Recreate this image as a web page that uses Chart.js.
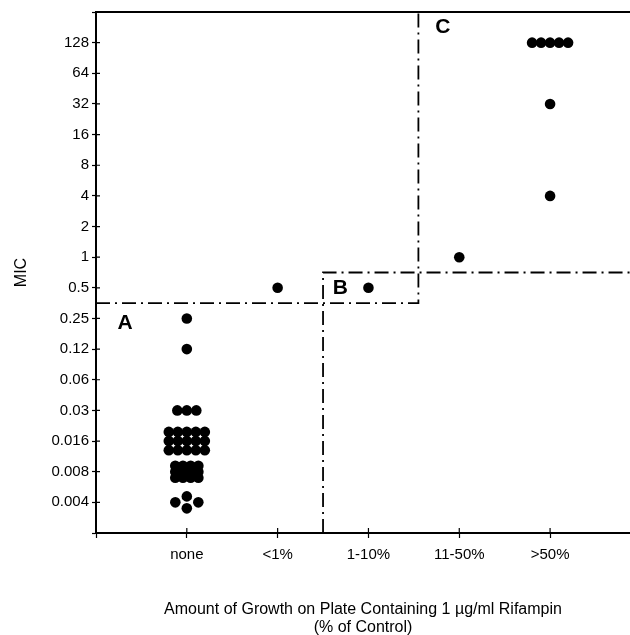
<!DOCTYPE html>
<html>
<head>
<meta charset="utf-8">
<script src="https://cdn.jsdelivr.net/npm/chart.js@4.4.1/dist/chart.umd.min.js"></script>
<style>
  html, body { margin: 0; padding: 0; background: #fff; }
  #wrap { width: 630px; height: 635px; }
</style>
</head>
<body>
<div id="wrap"><canvas id="micChart"></canvas></div>
<script>
const categories = ['none', '<1%', '1-10%', '11-50%', '>50%'];
const micLabels = ['0.004', '0.008', '0.016', '0.03', '0.06', '0.12', '0.25', '0.5',
                   '1', '2', '4', '8', '16', '32', '64', '128'];

// isolates per MIC, same order as micLabels
const countsNone    = [4, 12, 15, 3, 0, 1, 1, 0, 0, 0, 0, 0, 0, 0, 0, 0];
const countsBelow1  = [0, 0, 0, 0, 0, 0, 0, 1, 0, 0, 0, 0, 0, 0, 0, 0];
const counts1to10   = [0, 0, 0, 0, 0, 0, 0, 1, 0, 0, 0, 0, 0, 0, 0, 0];
const counts11to50  = [0, 0, 0, 0, 0, 0, 0, 0, 1, 0, 0, 0, 0, 0, 0, 0];
const countsAbove50 = [0, 0, 0, 0, 0, 0, 0, 0, 0, 0, 1, 0, 0, 1, 0, 5];
const allCounts = [countsNone, countsBelow1, counts1to10, counts11to50, countsAbove50];

// region borders (x = category position, y = MIC step)
const borderA = [{ x: 0, y: 6.5 }, { x: 3.55, y: 6.5 }, { x: 3.55, y: 16 }];
const borderB = [{ x: 2.5, y: -1 }, { x: 2.5, y: 7.5 }, { x: 5.88, y: 7.5 }];
const regionLetters = [
    { text: 'A', x: 0.32, y: 5.84 },
    { text: 'B', x: 2.69, y: 7.0 },
    { text: 'C', x: 3.82, y: 15.5 }
];

// how the dots of a crowded MIC are stacked (rows, spacing in px)
const dotStacks = {
    'none|0.004': { rows: [1, 2, 1], dx: 23, dy: 6 },
    'none|0.008': { rows: [4, 4, 4], dx: 7.7, dy: 6 },
    'none|0.016': { rows: [5, 5, 5], dx: 9, dy: 9.2 },
    'none|0.03':  { rows: [3], dx: 9.5, dy: 0 },
    '>50%|128':   { rows: [5], dx: 9, dy: 0 }
};

const X_MAX = 5.88;
const PLOT_W = 630 - 96, PLOT_H = 533 - 10;
const pxX = X_MAX / PLOT_W;
const pxY = 17 / PLOT_H;

const dots = [];
allCounts.forEach(function (counts, c) {
    counts.forEach(function (n, m) {
        if (!n) return;
        const stack = dotStacks[categories[c] + '|' + micLabels[m]] || { rows: [n], dx: 9.5, dy: 0 };
        stack.rows.forEach(function (inRow, r) {
            const yOff = ((stack.rows.length - 1) / 2 - r) * stack.dy;
            for (let i = 0; i < inRow; i++) {
                const xOff = (i - (inRow - 1) / 2) * stack.dx;
                dots.push({ x: c + 1 + xOff * pxX, y: m + yOff * pxY });
            }
        });
    });
});

const dashDot = [14, 5, 2, 5];
const FONT = '"Liberation Sans", Arial, sans-serif';

const framePlugin = {
    id: 'frame',
    afterDatasetsDraw(chart) {
        const { ctx, chartArea, scales } = chart;
        ctx.save();
        // top border
        ctx.strokeStyle = '#000';
        ctx.lineWidth = 2;
        ctx.beginPath();
        ctx.moveTo(chartArea.left, chartArea.top);
        ctx.lineTo(chartArea.right, chartArea.top);
        ctx.stroke();
        // inner half of the tick marks
        ctx.lineWidth = 1.2;
        ctx.beginPath();
        scales.y.ticks.forEach(function (t) {
            const py = scales.y.getPixelForValue(t.value);
            ctx.moveTo(chartArea.left, py);
            ctx.lineTo(chartArea.left + 4, py);
        });
        scales.x.ticks.forEach(function (t) {
            const px = scales.x.getPixelForValue(t.value);
            ctx.moveTo(px, chartArea.bottom);
            ctx.lineTo(px, chartArea.bottom - 5);
        });
        ctx.stroke();
        // region letters
        ctx.fillStyle = '#000';
        ctx.font = 'bold 21px ' + FONT;
        ctx.textAlign = 'center';
        ctx.textBaseline = 'middle';
        regionLetters.forEach(function (l) {
            ctx.fillText(l.text, scales.x.getPixelForValue(l.x), scales.y.getPixelForValue(l.y));
        });
        ctx.restore();
    }
};

new Chart(document.getElementById('micChart').getContext('2d'), {
    type: 'scatter',
    data: {
        datasets: [
            {
                label: 'isolates',
                data: dots,
                backgroundColor: '#000',
                borderColor: '#000',
                borderWidth: 0,
                pointRadius: 5.3,
                pointHoverRadius: 5.3
            },
            {
                label: 'border A',
                data: borderA,
                showLine: true,
                borderColor: '#000',
                borderWidth: 1.8,
                borderDash: dashDot,
                pointRadius: 0
            },
            {
                label: 'border B',
                data: borderB,
                showLine: true,
                borderColor: '#000',
                borderWidth: 1.8,
                borderDash: dashDot,
                pointRadius: 0
            }
        ]
    },
    options: {
        responsive: true,
        maintainAspectRatio: false,
        animation: false,
        layout: { autoPadding: false, padding: { top: 10, right: 0, left: 0, bottom: 0 } },
        plugins: { legend: { display: false }, tooltip: { enabled: false } },
        scales: {
            x: {
                type: 'linear',
                min: 0,
                max: X_MAX,
                afterFit: function (s) { s.height = 102; },
                afterBuildTicks: function (s) {
                    s.ticks = [0, 1, 2, 3, 4, 5].map(function (v) { return { value: v }; });
                },
                grid: { drawOnChartArea: false, tickLength: 5, color: '#000', tickWidth: 1.2 },
                border: { display: true, color: '#000', width: 2 },
                ticks: {
                    color: '#000',
                    padding: 8,
                    font: { family: FONT, size: 15 },
                    callback: function (v) { return categories[v - 1] || ''; }
                },
                title: {
                    display: true,
                    text: ['Amount of Growth on Plate Containing 1 \u00b5g/ml Rifampin', '(% of Control)'],
                    color: '#000',
                    font: { family: FONT, size: 16, lineHeight: 1.125 },
                    padding: { top: 0, bottom: -2 }
                }
            },
            y: {
                type: 'linear',
                min: -1,
                max: 16,
                afterFit: function (s) { s.width = 96; },
                afterBuildTicks: function (s) {
                    const t = [];
                    for (let v = -1; v <= 16; v++) t.push({ value: v });
                    s.ticks = t;
                },
                grid: { drawOnChartArea: false, tickLength: 4, color: '#000', tickWidth: 1.2 },
                border: { display: true, color: '#000', width: 2 },
                ticks: {
                    color: '#000',
                    padding: 3,
                    font: { family: FONT, size: 15 },
                    callback: function (v) { return micLabels[v] || ''; }
                },
                title: {
                    display: true,
                    text: 'MIC',
                    color: '#000',
                    font: { family: FONT, size: 16 },
                    padding: { top: 12, bottom: 0 }
                }
            }
        }
    },
    plugins: [framePlugin]
});
</script>
</body>
</html>
